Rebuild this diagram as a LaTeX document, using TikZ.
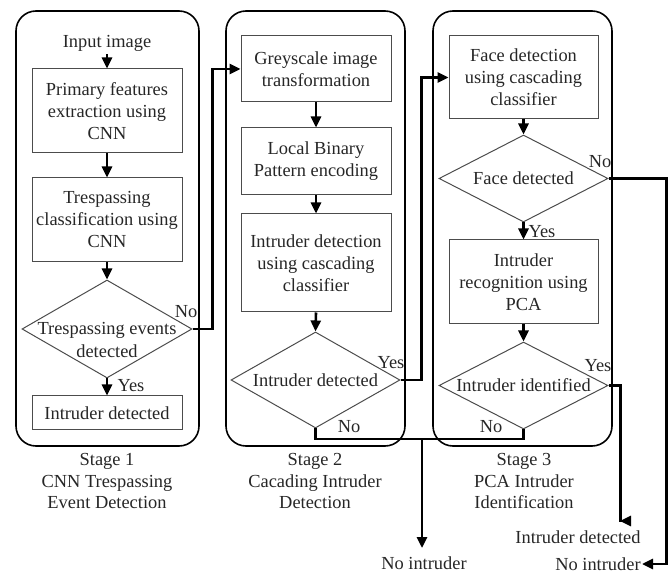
\documentclass[tikz,border=0pt]{standalone}
\usepackage{fontspec}
\setmainfont{Liberation Serif}
\usetikzlibrary{shapes.geometric,arrows.meta}
\begin{document}
\begin{tikzpicture}[x=0.5pt,y=-0.5pt,
  every node/.style={font=\fontsize{9.2pt}{11pt}\selectfont, text=black!85, inner sep=0pt},
  procbox/.style={draw=black!70, line width=0.5pt, minimum width=75pt, align=center},
  decision/.style={draw=black!70, line width=0.5pt, diamond, inner sep=0pt},
  stagebox/.style={draw=black, line width=0.8pt, rectangle, rounded corners=10pt},
  conn/.style={line width=1.3pt, -{Triangle[length=5.5pt,width=5pt]}},
  plainline/.style={line width=1.3pt},
  caption/.style={align=center, font=\fontsize{9.2pt}{10.6pt}\selectfont},
  lbl/.style={}
]
\useasboundingbox (0,0) rectangle (670,572);

% stage containers
\node[stagebox, minimum width=91.5pt, minimum height=217.5pt] (st1) at (107.5,228.5) {};
\node[stagebox, minimum width=89.5pt, minimum height=217.5pt] (st2) at (315.5,228.5) {};
\node[stagebox, minimum width=89.5pt, minimum height=217.5pt] (st3) at (522.5,228.5) {};

% stage 1
\node (in1) at (107,43) {Input image};
\node[procbox, minimum height=42pt] (s1b1) at (107,111) {Primary features\\extraction using\\CNN};
\node[procbox, minimum height=42pt] (s1b2) at (107,220) {Trespassing\\classification using\\CNN};
\node[decision, minimum width=85pt, minimum height=49pt] (d1) at (107,329) {};
\node[align=center] (t1) at (107,340) {Trespassing events\\detected};
\node[procbox, minimum height=17pt] (s1b3) at (107,413) {Intruder detected};
\node[caption] (c1) at (107,481) {Stage 1\\CNN Trespassing\\Event Detection};

% stage 2
\node[procbox, minimum height=33pt] (s2b1) at (316,69) {Greyscale image\\transformation};
\node[procbox, minimum height=33.5pt] (s2b2) at (316,161.5) {Local Binary\\Pattern encoding};
\node[procbox, minimum height=49pt] (s2b3) at (316,263) {Intruder detection\\using cascading\\classifier};
\node[decision, minimum width=84.5pt, minimum height=48pt] (d2) at (315.5,380) {};
\node (t2) at (315.5,380) {Intruder detected};
\node[caption] (c2) at (315,481) {Stage 2\\Cacading Intruder\\Detection};

% stage 3
\node[procbox, minimum width=74.5pt, minimum height=41.5pt] (s3b1) at (523.5,77.5) {Face detection\\using cascading\\classifier};
\node[decision, minimum width=84.5pt, minimum height=43.5pt] (d3) at (523.5,178.5) {};
\node (t3) at (523.5,178.5) {Face detected};
\node[procbox, minimum width=74.5pt, minimum height=42pt] (s3b2) at (523.5,282) {Intruder\\recognition using\\PCA};
\node[decision, minimum width=84.5pt, minimum height=43.5pt] (d4) at (523.5,385.5) {};
\node (t4) at (523.5,385.5) {Intruder identified};
\node[caption] (c3) at (524,481) {Stage 3\\PCA Intruder\\Identification};

% outputs
\node (ni1) at (424,563) {No intruder};
\node (ni2) at (598,564) {No intruder};
\node (id2) at (578,537) {Intruder detected};
\coordinate (j) at (422,439);
\coordinate (e2) at (422,548);
\coordinate (e3) at (642,564);
\coordinate (e4) at (620,521);

% labels
\node[lbl] (l1) at (186,312) {No};
\node[lbl] (l2) at (131,386) {Yes};
\node[lbl] (l3) at (391,363) {Yes};
\node[lbl] (l4) at (349,427) {No};
\node[lbl] (l5) at (600,162) {No};
\node[lbl] (l6) at (542,232) {Yes};
\node[lbl] (l7) at (598,366) {Yes};
\node[lbl] (l8) at (491,427) {No};

% connectors stage 1
\draw[conn] (in1.south) ++(0,3) -- (s1b1.north);
\draw[conn] (s1b1.south) -- (s1b2.north);
\draw[conn] (s1b2.south) -- (d1.north);
\draw[conn] (d1.south) -- (s1b3.north);
\draw[conn] (d1.east) -- ++(20,0) |- (s2b1.west);

% connectors stage 2
\draw[conn] (s2b1.south) -- (s2b2.north);
\draw[conn] (s2b2.south) -- (s2b3.north);
\draw[conn] (s2b3.south) -- (d2.north);
\draw[conn] (d2.east) -- ++(21,0) |- (s3b1.west);
\draw[plainline] (d2.south) |- (j);
\draw[plainline] (d4.south) |- (j);
\draw[conn] (j) -- (e2);

% connectors stage 3
\draw[conn] (s3b1.south) -- (d3.north);
\draw[conn] (d3.south) -- (s3b2.north);
\draw[conn] (s3b2.south) -- (d4.north);
\draw[conn] (d3.east) -- ++(58,0) |- (e3);
\draw[conn] (d4.east) -- ++(12,0) |- (e4);
\end{tikzpicture}
\end{document}
